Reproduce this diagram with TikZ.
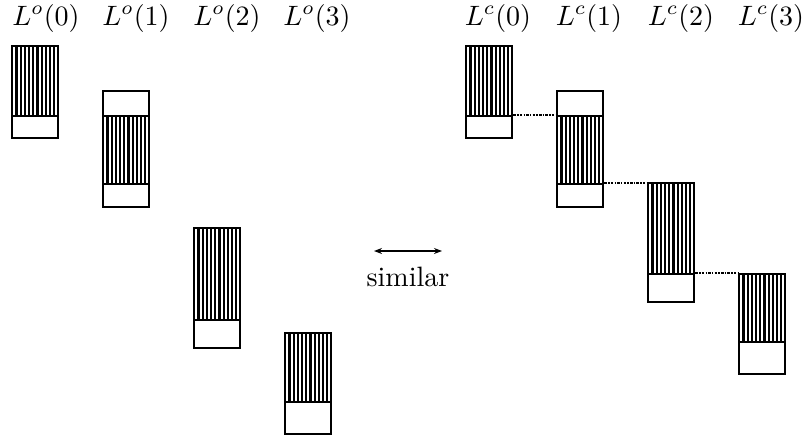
\documentclass[tikz,border=0pt]{standalone}
\usetikzlibrary{arrows.meta}
\newcommand{\bigtxt}[1]{\scalebox{2.8}{#1}}
\begin{document}
\begin{tikzpicture}[x=1pt,y=-1pt,
  part/.style={draw, line width=2.4pt, inner sep=0pt, minimum width=46pt, anchor=north west},
  hatched/.style={part, path picture={
      \foreach \i in {1,...,10}
        \draw[line width=2.2pt] ([xshift=\i*4.2pt]path picture bounding box.south west) -- ([xshift=\i*4.2pt]path picture bounding box.north west);}},
  lbl/.style={anchor=base, inner sep=0pt},
  link/.style={line width=1.8pt, dash pattern=on 2.5pt off 1.2pt on 1.5pt off 1.2pt},
]
\useasboundingbox (0,0) rectangle (805,439);
% labels
\node[lbl] (lo0) at (46,25) {\bigtxt{$L^o(0)$}};
\node[lbl] (lo1) at (136,25) {\bigtxt{$L^o(1)$}};
\node[lbl] (lo2) at (227,25) {\bigtxt{$L^o(2)$}};
\node[lbl] (lo3) at (317,25) {\bigtxt{$L^o(3)$}};
\node[lbl] (lc0) at (498,25) {\bigtxt{$L^c(0)$}};
\node[lbl] (lc1) at (589,25) {\bigtxt{$L^c(1)$}};
\node[lbl] (lc2) at (681,25) {\bigtxt{$L^c(2)$}};
\node[lbl] (lc3) at (771,25) {\bigtxt{$L^c(3)$}};
% left boxes
\node[hatched, minimum height=70pt] (o0h) at (11,45) {};
\node[part, minimum height=22pt] (o0w) at (11,115) {};
\node[part, minimum height=25pt] (o1t) at (102,90) {};
\node[hatched, minimum height=68pt] (o1h) at (102,115) {};
\node[part, minimum height=23pt] (o1w) at (102,183) {};
\node[hatched, minimum height=92pt] (o2h) at (193,227) {};
\node[part, minimum height=28pt] (o2w) at (193,319) {};
\node[hatched, minimum height=69pt] (o3h) at (284,332) {};
\node[part, minimum height=32pt] (o3w) at (284,401) {};
% right boxes
\node[hatched, minimum height=70pt] (c0h) at (465,45) {};
\node[part, minimum height=22pt] (c0w) at (465,115) {};
\node[part, minimum height=25pt] (c1t) at (556,90) {};
\node[hatched, minimum height=68pt] (c1h) at (556,115) {};
\node[part, minimum height=23pt] (c1w) at (556,183) {};
\node[hatched, minimum height=91pt] (c2h) at (647,182) {};
\node[part, minimum height=28pt] (c2w) at (647,273) {};
\node[hatched, minimum height=68pt] (c3h) at (738,273) {};
\node[part, minimum height=32pt] (c3w) at (738,341) {};
% links
\draw[link] (c0w.north east) -- (c1h.north west);
\draw[link] (c1w.north east) -- (c2h.south west |- c1w.north);
\draw[link] (c2w.north east) -- (c3h.north west);
% similar
\coordinate (sa) at (374,251);
\coordinate (sb) at (442,251);
\draw[line width=1.5pt, {Stealth[length=8pt,width=6pt]}-{Stealth[length=8pt,width=6pt]}] (sa) -- (sb);
\node[lbl] (sim) at (408,286) {\bigtxt{similar}};
\end{tikzpicture}
\end{document}
